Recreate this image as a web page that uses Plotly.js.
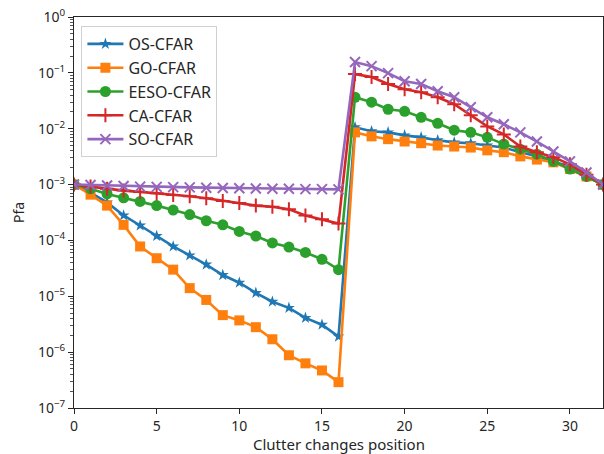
<!DOCTYPE html>
<html>
<head>
<meta charset="utf-8">
<script src="https://cdn.plot.ly/plotly-3.0.1.min.js"></script>
<style>
  html, body { margin: 0; padding: 0; background: #fff; }
  #chart { width: 604px; height: 454px; }
</style>
</head>
<body>
<div id="chart"></div>
<script>
// Clutter edge position (cell index)
const positions = Array.from({length: 33}, (_, i) => i);

// Probability of false alarm for each detector
const osCfar = [1e-3, 7.2e-4, 4.8e-4, 2.8e-4, 1.85e-4, 1.2e-4, 7.8e-5, 5.4e-5, 3.7e-5, 2.4e-5,
  1.75e-5, 1.15e-5, 8e-6, 6.2e-6, 4.1e-6, 3.1e-6, 1.9e-6,
  1.06e-2, 9e-3, 8.6e-3, 7.6e-3, 7e-3, 6.2e-3, 5.7e-3, 5.5e-3, 5e-3, 4.6e-3, 3.8e-3, 3.2e-3,
  2.6e-3, 2.1e-3, 1.4e-3, 1e-3];
const goCfar = [1e-3, 6.6e-4, 4.2e-4, 1.9e-4, 7.8e-5, 4.8e-5, 3e-5, 1.4e-5, 8.6e-6, 4.6e-6,
  3.7e-6, 2.8e-6, 1.7e-6, 8.8e-7, 6.3e-7, 4.7e-7, 2.9e-7,
  8.6e-3, 7.3e-3, 6.5e-3, 5.9e-3, 5.5e-3, 5e-3, 4.8e-3, 4.6e-3, 4.1e-3, 3.8e-3, 3.2e-3, 2.8e-3,
  2.5e-3, 1.9e-3, 1.4e-3, 1e-3];
const eesoCfar = [1e-3, 8.4e-4, 6.8e-4, 5.8e-4, 5e-4, 4.2e-4, 3.5e-4, 2.9e-4, 2.25e-4, 1.9e-4,
  1.45e-4, 1.2e-4, 9e-5, 7.6e-5, 6.1e-5, 4.6e-5, 3e-5,
  3.66e-2, 2.98e-2, 2.23e-2, 2.05e-2, 1.6e-2, 1.25e-2, 9.4e-3, 8.6e-3, 7e-3, 5.3e-3, 4.3e-3,
  3.5e-3, 2.6e-3, 1.9e-3, 1.4e-3, 1e-3];
const caCfar = [1e-3, 9.2e-4, 8.4e-4, 7.8e-4, 7.4e-4, 7e-4, 6.5e-4, 6.2e-4, 5.7e-4, 5.1e-4,
  4.7e-4, 4.2e-4, 4e-4, 3.6e-4, 2.8e-4, 2.4e-4, 2e-4,
  9.5e-2, 8.4e-2, 6.3e-2, 5.1e-2, 4.5e-2, 3.66e-2, 2.74e-2, 1.75e-2, 1.1e-2, 7.9e-3, 4.8e-3,
  3.8e-3, 3.1e-3, 2.3e-3, 1.5e-3, 1e-3];
const soCfar = [1e-3, 9.8e-4, 9.6e-4, 9.4e-4, 9.2e-4, 9.1e-4, 9e-4, 8.9e-4, 8.8e-4, 8.7e-4,
  8.6e-4, 8.5e-4, 8.4e-4, 8.4e-4, 8.3e-4, 8.3e-4, 8.2e-4,
  0.156, 0.132, 9.9e-2, 7.1e-2, 6.3e-2, 4.7e-2, 3.66e-2, 2.42e-2, 1.6e-2, 1.2e-2, 8.6e-3,
  5.9e-3, 3.9e-3, 2.6e-3, 1.65e-3, 1e-3];

const seriesNames = ['OS-CFAR', 'GO-CFAR', 'EESO-CFAR', 'CA-CFAR', 'SO-CFAR'];
const xTitle = 'Clutter changes position';
const yTitle = 'Pfa';

// Log-axis decade ticks
const yTickVals = [1e-7, 1e-6, 1e-5, 1e-4, 1e-3, 1e-2, 1e-1, 1];
const yTickText = ['10<sup>\u22127</sup>', '10<sup>\u22126</sup>', '10<sup>\u22125</sup>',
  '10<sup>\u22124</sup>', '10<sup>\u22123</sup>', '10<sup>\u22122</sup>',
  '10<sup>\u22121</sup>', '10<sup>0</sup>'];
const xTickVals = [0, 5, 10, 15, 20, 25, 30];

const styles = [
  {color: '#1f77b4', symbol: 'star', size: 9, lw: 0},
  {color: '#ff7f0e', symbol: 'square', size: 10, lw: 0},
  {color: '#2ca02c', symbol: 'circle', size: 11, lw: 0},
  {color: '#d62728', symbol: 'cross-thin', size: 10, lw: 2},
  {color: '#9467bd', symbol: 'x-thin', size: 10, lw: 2}
];
const allSeries = [osCfar, goCfar, eesoCfar, caCfar, soCfar];

const traces = allSeries.map((ys, k) => ({
  x: positions,
  y: ys,
  name: seriesNames[k],
  type: 'scatter',
  mode: 'lines+markers',
  line: {color: styles[k].color, width: 2.6},
  marker: {
    symbol: styles[k].symbol,
    size: styles[k].size,
    color: styles[k].color,
    line: {color: styles[k].color, width: styles[k].lw}
  }
}));

const font = 'Noto Sans, DejaVu Sans, sans-serif';

const layout = {
  width: 604,
  height: 454,
  margin: {l: 74, r: 1, t: 17, b: 46},
  paper_bgcolor: '#fff',
  plot_bgcolor: '#fff',
  font: {family: font, size: 14, color: '#262626'},
  showlegend: true,
  legend: {
    x: 0.014, y: 0.977, xanchor: 'left', yanchor: 'top',
    bgcolor: 'rgba(255,255,255,0.9)',
    bordercolor: '#d0d0d0', borderwidth: 1,
    font: {family: font, size: 16, color: '#262626'},
    itemwidth: 36
  },
  xaxis: {
    range: [0, 32],
    tickmode: 'array',
    tickvals: xTickVals,
    ticks: 'outside', ticklen: 5, tickwidth: 1, tickcolor: '#262626',
    showline: true, linecolor: '#262626', linewidth: 1, mirror: true,
    showgrid: false, zeroline: false,
    tickfont: {size: 14}
  },
  yaxis: {
    type: 'log',
    range: [-7, 0],
    tickmode: 'array',
    tickvals: yTickVals,
    ticktext: yTickText,
    ticks: 'outside', ticklen: 5, tickwidth: 1, tickcolor: '#262626',
    minor: {ticks: 'outside', ticklen: 3, tickwidth: 1, tickcolor: '#555', dtick: 'D1', showgrid: false},
    showline: true, linecolor: '#262626', linewidth: 1, mirror: true,
    showgrid: false, zeroline: false,
    tickfont: {size: 14},
    title: {text: yTitle, font: {size: 14}, standoff: 10}
  },
  // x-axis caption sits just below the tick labels, at the bottom edge of the page
  annotations: [{
    text: xTitle,
    xref: 'paper', yref: 'paper', x: 0.5, y: 0,
    xanchor: 'center', yanchor: 'top',
    yshift: -24, showarrow: false,
    font: {family: font, size: 15, color: '#262626'}
  }]
};

Plotly.newPlot('chart', traces, layout, {displayModeBar: false, staticPlot: true});
</script>
</body>
</html>
